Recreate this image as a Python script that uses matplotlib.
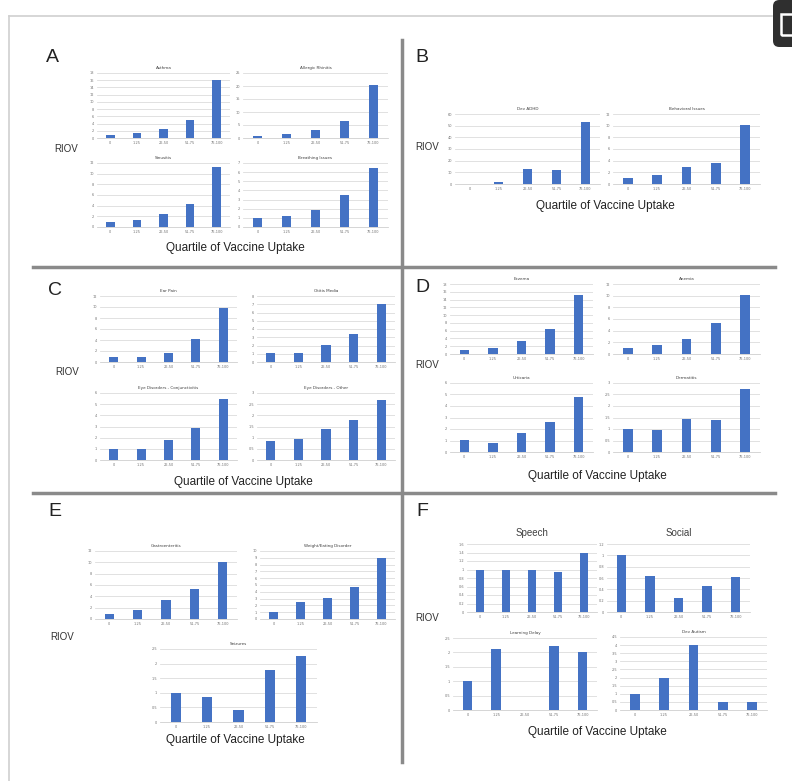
import matplotlib
matplotlib.use('Agg')
import matplotlib.pyplot as plt
import numpy as np
from matplotlib.patches import FancyBboxPatch, Rectangle

# Figure size in pixels
W, H = 792, 781

# Quartile categories (x axis of every small chart)
quartiles = ['0', '1-25', '26-50', '51-75', '76-100']

# Values (RIOV per quartile)
asthma = [0.8, 1.5, 2.5, 5.1, 16.0]
allergic_rhinitis = [0.9, 1.5, 3.1, 6.7, 20.5]
sinusitis = [1.0, 1.3, 2.5, 4.3, 11.3]
breathing_issues = [0.97, 1.23, 1.88, 3.46, 6.5]
dev_adhd = [0.0, 1.4, 13.0, 12.3, 53.4]
behavioral_issues = [0.97, 1.6, 3.0, 3.66, 10.1]
ear_pain = [0.96, 0.96, 1.56, 4.2, 9.84]
otitis_media = [1.04, 1.08, 2.08, 3.44, 7.0]
eye_conjunctivitis = [0.99, 0.96, 1.77, 2.91, 5.49]
eye_other = [0.86, 0.95, 1.37, 1.8, 2.67]
eczema = [0.94, 1.46, 3.34, 6.34, 15.2]
anemia = [0.97, 1.49, 2.5, 5.4, 10.2]
urticaria = [1.01, 0.78, 1.62, 2.6, 4.8]
dermatitis = [1.0, 0.96, 1.45, 1.39, 2.74]
gastroenteritis = [0.88, 1.6, 3.4, 5.35, 10.1]
weight_eating = [0.98, 2.45, 3.09, 4.75, 9.0]
seizures = [1.0, 0.84, 0.4, 1.78, 2.27]
speech = [0.98, 0.98, 1.0, 0.95, 1.39]
social = [1.01, 0.64, 0.24, 0.46, 0.61]
learning_delay = [1.0, 2.12, 0.0, 2.22, 2.02]
dev_autism = [1.0, 2.0, 3.99, 0.49, 0.49]

# Chart titles
titles = ['Asthma', 'Allergic Rhinitis', 'Sinusitis', 'Breathing Issues',
          'Dev ADHD', 'Behavioral Issues',
          'Ear Pain', 'Otitis Media', 'Eye Disorders - Conjunctivitis', 'Eye Disorders - Other',
          'Eczema', 'Anemia', 'Urticaria', 'Dermatitis',
          'Gastroenteritis', 'Weight/Eating Disorder', 'Seizures',
          'Speech', 'Social', 'Learning Delay', 'Dev Autism']
series = [asthma, allergic_rhinitis, sinusitis, breathing_issues,
          dev_adhd, behavioral_issues,
          ear_pain, otitis_media, eye_conjunctivitis, eye_other,
          eczema, anemia, urticaria, dermatitis,
          gastroenteritis, weight_eating, seizures,
          speech, social, learning_delay, dev_autism]

# y axis scale (max, step) per chart
y_max = [18, 25, 12, 7, 60, 12, 12, 8, 6, 3, 18, 12, 6, 3, 12, 10, 2.5, 1.6, 1.2, 2.5, 4.5]
y_step = [2, 5, 2, 1, 10, 2, 2, 1, 1, 0.5, 2, 2, 1, 0.5, 2, 1, 0.5, 0.2, 0.2, 0.5, 0.5]

# Axes boxes in pixels (left, top, right, bottom)
boxes = [(97, 73, 230, 138), (243, 73, 388, 138), (97, 163, 230, 227), (243, 163, 388, 227),
         (455, 114, 600, 184), (613, 114, 760, 184),
         (100, 296, 237, 362), (257, 296, 395, 362), (100, 393, 237, 460), (257, 393, 395, 460),
         (450, 284, 593, 354), (613, 284, 760, 354), (450, 383, 593, 452), (613, 383, 760, 452),
         (95, 551, 237, 619), (260, 551, 395, 619), (160, 649, 317, 722),
         (467, 544, 597, 612), (607, 544, 750, 612), (453, 638, 597, 710), (620, 637, 767, 710)]

bar_color = '#4472C4'

fig = plt.figure(figsize=(W / 100.0, H / 100.0), dpi=100)
fig.patch.set_facecolor('white')


def fx(x):
    return x / float(W)


def fy(y):
    return 1 - y / float(H)


# Draw all small bar charts
for i, (title, vals) in enumerate(zip(titles, series)):
    l, t, r, b = boxes[i]
    ax = fig.add_axes([fx(l), fy(b), fx(r) - fx(l), fy(t) - fy(b)])
    x = np.arange(len(quartiles))
    ax.bar(x, vals, width=0.33, color=bar_color, zorder=3)
    ax.set_xlim(-0.5, len(quartiles) - 0.5)
    ax.set_ylim(0, y_max[i])
    ticks = np.arange(0, y_max[i] + y_step[i] / 2.0, y_step[i])
    ax.set_yticks(ticks)
    ax.set_yticklabels(['%g' % v for v in ticks])
    ax.set_xticks(x)
    ax.set_xticklabels(quartiles)
    ax.tick_params(length=0, labelsize=2.5, labelcolor='#707070', pad=2)
    ax.yaxis.grid(True, color='#dcdcdc', linewidth=0.6, zorder=0)
    for s in ['top', 'right', 'left']:
        ax.spines[s].set_visible(False)
    ax.spines['bottom'].set_color('#cfcfcf')
    ax.spines['bottom'].set_linewidth(0.6)
    if title in ('Speech', 'Social'):
        ax.set_title(title, fontsize=7, color='#404040', pad=6, family='Liberation Sans')
    else:
        ax.set_title(title, fontsize=3, color='#404040', pad=3)

# Panel letters
letters = ['A', 'B', 'C', 'D', 'E', 'F']
letter_pos = [(52, 57), (422, 57), (55, 290), (422, 287), (55, 511), (422, 511)]
for s, (x, y) in zip(letters, letter_pos):
    fig.text(fx(x), fy(y), s, fontsize=14, ha='center', va='center', family='Liberation Sans', color='#222222')

# RIOV labels
riov_pos = [(66, 149), (427, 147), (67, 372), (427, 365), (62, 637), (427, 618)]
for x, y in riov_pos:
    fig.text(fx(x), fy(y), 'RIOV', fontsize=7, ha='center', va='center', family='Liberation Sans', color='#333333')

# Axis titles
xlab_pos = [(235, 248), (605, 206), (243, 482), (597, 476), (235, 740), (597, 732)]
for x, y in xlab_pos:
    fig.text(fx(x), fy(y), 'Quartile of Vaccine Uptake', fontsize=8.5, ha='center', va='center',
             family='Liberation Sans', color='#222222')

# Separator lines between panels
sep = '#8a8a8a'
fig.add_artist(plt.Line2D([fx(402), fx(402)], [fy(40), fy(762)], color=sep, linewidth=2.5))
fig.add_artist(plt.Line2D([fx(33), fx(775)], [fy(267), fy(267)], color=sep, linewidth=2.5))
fig.add_artist(plt.Line2D([fx(33), fx(775)], [fy(493), fy(493)], color=sep, linewidth=2.5))

# Outer frame (top and left edges)
fig.add_artist(plt.Line2D([fx(9), fx(772)], [fy(16), fy(16)], color='#d0d0d0', linewidth=1.2))
fig.add_artist(plt.Line2D([fx(9), fx(9)], [fy(16), fy(781)], color='#d0d0d0', linewidth=1.2))

# Dark icon in the top right corner
fig.add_artist(FancyBboxPatch((fx(773), fy(47)), fx(30), fy(0) - fy(47),
                              boxstyle='round,pad=0,rounding_size=0.008',
                              facecolor='#2f2f2f', edgecolor='none', transform=fig.transFigure))
fig.add_artist(Rectangle((fx(781), fy(35)), fx(14), fy(14) - fy(35), facecolor='none',
                         edgecolor='white', linewidth=1.8, transform=fig.transFigure))

plt.savefig('out.png', dpi=100, facecolor='white')
